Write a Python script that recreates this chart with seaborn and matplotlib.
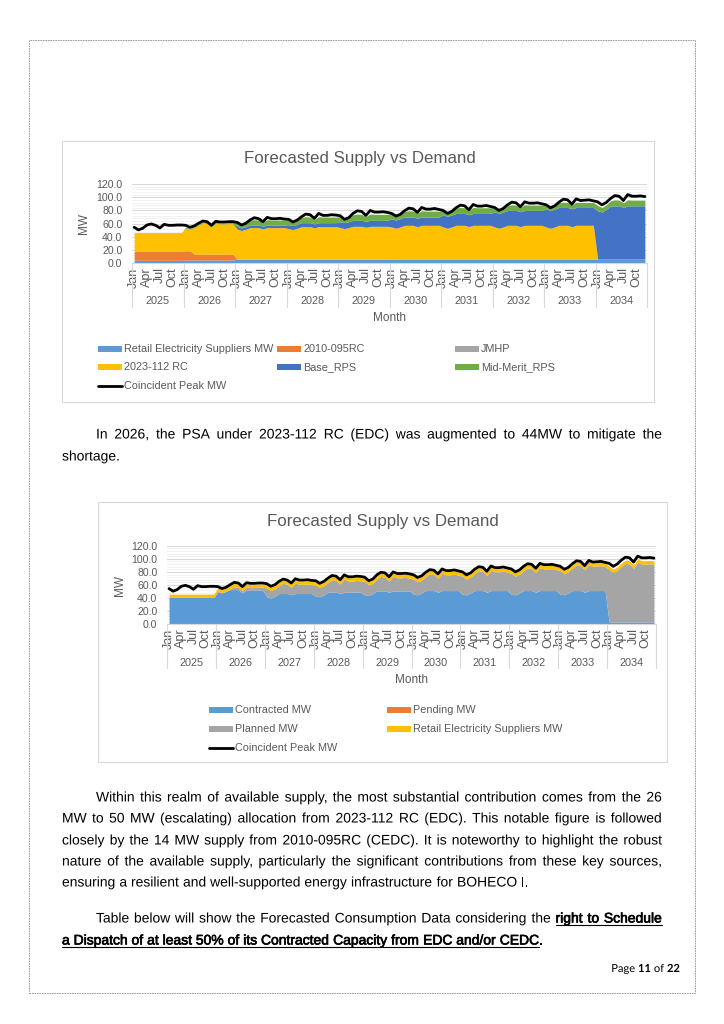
import numpy as np
import seaborn as sns
import matplotlib
matplotlib.use("Agg")
import matplotlib.pyplot as plt
import matplotlib.patheffects as pe
from matplotlib.patches import Rectangle
from matplotlib.lines import Line2D
from matplotlib.ticker import MultipleLocator, FormatStrFormatter
from matplotlib.transforms import blended_transform_factory

sns.set_theme(style="white")
plt.rcParams["font.family"] = "Liberation Sans"

# ---------------- data ----------------
years = ["2025", "2026", "2027", "2028", "2029", "2030", "2031", "2032", "2033", "2034"]
month_names = ["Jan", "Feb", "Mar", "Apr", "May", "Jun", "Jul", "Aug", "Sep", "Oct", "Nov", "Dec"]

peak_mw = [
    54.5, 50.5, 53, 58, 59.5, 57.5, 53.5, 59, 57.5, 57.5, 58, 58,
    57.5, 54.5, 56.5, 60.5, 64, 63, 57.5, 63.5, 62.5, 62.5, 63, 63,
    62, 58, 60.5, 65.5, 69, 67.5, 63, 69.5, 67.5, 67.5, 68, 67,
    66.5, 62.5, 65.5, 70.5, 74.5, 73.5, 68, 75.5, 72.5, 72.5, 73.5, 73,
    72, 66.5, 69, 75.5, 79.5, 78.5, 72.5, 80, 77.5, 77.5, 78, 77,
    75.5, 71.5, 74, 79.5, 83.5, 82.5, 77, 84.5, 82, 82, 83, 81.5,
    80, 75.5, 78.5, 84, 88, 87, 81, 89, 86.5, 86.5, 87.5, 86,
    84.5, 80, 83, 88.5, 92.5, 91.5, 85.5, 93, 91, 91, 91.5, 90,
    88.5, 84, 87, 92.5, 97, 96, 89.5, 97.5, 95, 95.5, 96, 94.5,
    93, 88.5, 92, 98, 102.5, 101.5, 95, 104, 101.5, 101.5, 102, 101,
]

# chart 1 series
retail_1 = ([4.5] * 12 + [5] * 12 + [6] * 12 + [6] * 12 + [6] * 12
            + [6.5] * 12 + [6.5] * 12 + [6.5] * 12 + [6.5] * 12 + [6.5] * 12)
rc2010_1 = [14] * 12 + [14, 14, 9, 9, 9, 9, 9, 9, 9, 9, 9, 9] + [0] * 96
jmhp_1 = [0] * 120
rc2023_1 = (
    [28] * 12
    + [34, 32.5, 40, 43.5, 47, 46, 41, 46.5, 45.5, 45.5, 46, 46]
    + [46, 43.5, 45.5, 48, 48, 48, 46, 48, 48, 48, 48, 48]
    + [46.5, 45, 47, 49.5, 49.5, 49.5, 47.5, 49.5, 49.5, 49.5, 49.5, 49.5]
    + [48, 46.5, 48, 50, 50, 50, 48.5, 50, 50, 50, 50, 50]
    + [48.5, 46.5, 48.5, 51, 51, 51, 49, 51, 51, 51, 51, 51]
    + [48.5, 46.5, 48.5, 51, 51, 51, 49, 51, 51, 51, 51, 51]
    + [48.5, 46.5, 48.5, 51, 51, 51, 49, 51, 51, 51, 51, 51]
    + [48.5, 46.5, 48.5, 51, 51, 51, 49, 51, 51, 51, 51, 51]
    + [0] * 12
)
base_rps_1 = ([0] * 24 + [4] * 12 + [6] * 12 + [9] * 12 + [12.5] * 12
              + [18] * 12 + [22.5] * 12 + [27] * 12
              + [73, 71, 75, 80, 80.5, 80.5, 78, 80.5, 80.5, 80.5, 80.5, 80.5])
mid_merit_1 = (
    [0] * 12
    + [1.5] * 12
    + [6, 5.5, 5.5, 7, 8, 7.5, 6.5, 8, 7.5, 7.5, 7.5, 7.5]
    + [7, 6, 6.5, 8, 9, 8.5, 7, 9, 8.5, 8.5, 8.5, 8.5]
    + [7.5, 6.5, 7, 8.5, 9.5, 9, 7.5, 9.5, 9, 9, 9, 9]
    + [7.5, 6.5, 7, 8.5, 9.5, 9, 7.5, 9.5, 9, 9, 9, 9]
    + [7, 6, 6.5, 8, 9, 8.5, 7, 9, 8.5, 8.5, 8.5, 8.5]
    + [6.5, 5.5, 6, 7.5, 8.5, 8, 6.5, 8.5, 8, 8, 8, 8]
    + [6, 5, 5.5, 7, 8, 7.5, 6, 8, 7.5, 7.5, 7.5, 7.5]
    + [8, 7, 7, 8, 9, 8.5, 7, 9, 8.5, 8.5, 8.5, 8.5]
)

# chart 2 series
contracted_2 = (
    [41] * 12
    + [50, 48, 50.5, 53, 53, 53, 48, 52, 52, 52, 52, 52]
    + [42, 40, 43, 47, 47, 47, 45, 47, 47, 47, 47, 47]
    + [43, 42, 45, 49, 49, 49, 47, 49, 49, 49, 49, 49]
    + [45, 44, 47, 51, 51, 51, 49, 51, 51, 51, 51, 51]
    + [46, 45, 48, 51.5, 51.5, 51.5, 49, 51.5, 51.5, 51.5, 51.5, 51.5]
    + [46, 45, 48, 51.5, 51.5, 51.5, 49, 51.5, 51.5, 51.5, 51.5, 51.5]
    + [46, 45, 48, 51.5, 51.5, 51.5, 49, 51.5, 51.5, 51.5, 51.5, 51.5]
    + [46, 45, 48, 51.5, 51.5, 51.5, 49, 51.5, 51.5, 51.5, 51.5, 51.5]
    + [3.5] * 12
)
pending_2 = [0] * 120
planned_2 = (
    [0] * 12
    + [1, 0, 0, 1, 4.5, 3.5, 3, 5, 4, 4, 4.5, 4.5]
    + [13.5, 11.5, 11, 12, 15.5, 14, 11.5, 16, 14, 14, 14.5, 13.5]
    + [17, 14, 14, 15, 19, 18, 14.5, 20, 17, 17, 18, 17.5]
    + [20.5, 16, 15.5, 18, 22, 21, 17, 22.5, 20, 20, 20.5, 19.5]
    + [23, 20, 19.5, 21.5, 25.5, 24.5, 21.5, 26.5, 24, 24, 25, 23.5]
    + [27.5, 24, 24, 26, 30, 29, 25.5, 31, 28.5, 28.5, 29.5, 28]
    + [32, 28.5, 28.5, 30.5, 34.5, 33.5, 30, 35, 33, 33, 33.5, 32]
    + [36, 32.5, 32.5, 34.5, 39, 38, 34, 39.5, 37, 37.5, 38, 36.5]
    + [80, 75.5, 79, 85, 89.5, 88.5, 82, 91, 88.5, 88.5, 89, 88]
)
retail_2 = [5] * 120

# ---------------- page setup ----------------
FIG_W, FIG_H = 724, 1024
fig = plt.figure(figsize=(FIG_W / 100, FIG_H / 100), dpi=100)
fig.patch.set_facecolor("white")
rend = fig.canvas.get_renderer()

GREY_TXT = "#595959"
C_LBLUE, C_ORANGE, C_GREY = "#5B9BD5", "#ED7D31", "#A5A5A5"
C_YELLOW, C_DBLUE, C_GREEN = "#FFC000", "#4472C4", "#70AD47"


def fx(x):
    return x / FIG_W


def fy(y):
    return 1 - y / FIG_H


def rect_px(x0, y0, x1, y1, **kw):
    fig.add_artist(Rectangle((fx(x0), fy(y1)), (x1 - x0) / FIG_W, (y1 - y0) / FIG_H,
                             transform=fig.transFigure, **kw))


# page border
rect_px(29, 40, 695, 993, fill=False, ec="#8C8C8C", lw=0.6, ls=(0, (2, 1)))

x_pos = np.arange(120) + 0.5


def draw_chart(g, stacks, colors, legend_items, legend_cols):
    rect_px(*g["box"], fill=False, ec="#D9D9D9", lw=0.8)
    x0, y0, x1, y1 = g["plot"]
    ax = fig.add_axes([fx(x0), fy(y1), (x1 - x0) / FIG_W, (y1 - y0) / FIG_H])
    ax.stackplot(x_pos, *stacks, colors=colors, lw=0)
    sns.lineplot(x=x_pos, y=peak_mw, ax=ax, color="black", lw=2.0,
                 solid_joinstyle="round")
    ax.set_xlim(0, 120)
    ax.set_ylim(0, 120)
    ax.yaxis.set_major_locator(MultipleLocator(20))
    ax.yaxis.set_minor_locator(MultipleLocator(4))
    ax.yaxis.set_major_formatter(FormatStrFormatter("%.1f"))
    ax.grid(which="major", axis="y", color="#D9D9D9", lw=0.75)
    ax.grid(which="minor", axis="y", color="#F0F0F0", lw=0.6)
    ax.set_axisbelow(True)
    for s in ["top", "right", "left"]:
        ax.spines[s].set_visible(False)
    ax.spines["bottom"].set_color("#D9D9D9")
    ax.spines["bottom"].set_linewidth(0.8)
    ax.set_facecolor("none")
    ax.set_xticks(x_pos[::3])
    ax.set_xticklabels([month_names[i % 12] for i in range(0, 120, 3)])
    ax.tick_params(axis="x", length=0, pad=3.0, labelsize=9.0,
                   labelcolor=GREY_TXT, labelrotation=90)
    ax.tick_params(axis="y", which="both", length=0, pad=7, labelsize=7.6,
                   labelcolor=GREY_TXT)
    ax.set_xlabel("")
    ax.set_ylabel("")

    blend = blended_transform_factory(ax.transData, fig.transFigure)
    for k in range(11):
        ax.plot([12 * k, 12 * k], [fy(y1), fy(g["sep_bottom"])], transform=blend,
                clip_on=False, color="#D9D9D9", lw=0.8)
    for k, yr in enumerate(years):
        ax.text(12 * k + 6, fy(g["year_y"]), yr, transform=blend, ha="center",
                va="center", fontsize=7.8, color=GREY_TXT)

    fig.text(fx((x0 + x1) / 2), fy(g["month_y"]), "Month", ha="center", va="center",
             fontsize=8.5, color=GREY_TXT)
    fig.text(fx(g["mw"][0]), fy(g["mw"][1]), "MW", rotation=90, ha="center",
             va="center", fontsize=8.5, color=GREY_TXT)
    fig.text(fx(g["title"][0]), fy(g["title"][1]), "Forecasted Supply vs Demand",
             ha="center", va="center", fontsize=12.2, color=GREY_TXT)

    for i, (label, col, kind) in enumerate(legend_items):
        lx = g["leg_x"][i % legend_cols]
        ly = g["leg_y"][i // legend_cols]
        if kind == "line":
            fig.add_artist(Line2D([fx(lx), fx(lx + 24)], [fy(ly), fy(ly)],
                                  transform=fig.transFigure, color=col, lw=2.0))
        else:
            rect_px(lx, ly - 2.6, lx + 24, ly + 2.6, fc=col, ec="none")
        fig.text(fx(lx + 26), fy(ly), label, ha="left", va="center", fontsize=7.8,
                 color=GREY_TXT)
    return ax


geo1 = dict(box=(62, 141, 654, 402), plot=(132, 184, 647, 263.3), title=(360, 159),
            mw=(84, 224), year_y=301.5, sep_bottom=307, month_y=318,
            leg_x=(98, 277, 455), leg_y=(349, 367, 386))
geo2 = dict(box=(98, 502, 667, 762), plot=(167, 545.7, 656, 624.3), title=(383, 521.5),
            mw=(120, 585), year_y=662.5, sep_bottom=668, month_y=680,
            leg_x=(209, 387), leg_y=(710, 729, 748))

draw_chart(
    geo1,
    [retail_1, rc2010_1, jmhp_1, rc2023_1, base_rps_1, mid_merit_1],
    [C_LBLUE, C_ORANGE, C_GREY, C_YELLOW, C_DBLUE, C_GREEN],
    [("Retail Electricity Suppliers MW", C_LBLUE, "patch"), ("2010-095RC", C_ORANGE, "patch"),
     ("JMHP", C_GREY, "patch"), ("2023-112 RC", C_YELLOW, "patch"),
     ("Base_RPS", C_DBLUE, "patch"), ("Mid-Merit_RPS", C_GREEN, "patch"),
     ("Coincident Peak MW", "black", "line")],
    3,
)
draw_chart(
    geo2,
    [contracted_2, pending_2, planned_2, retail_2],
    [C_LBLUE, C_ORANGE, C_GREY, C_YELLOW],
    [("Contracted MW", C_LBLUE, "patch"), ("Pending MW", C_ORANGE, "patch"),
     ("Planned MW", C_GREY, "patch"), ("Retail Electricity Suppliers MW", C_YELLOW, "patch"),
     ("Coincident Peak MW", "black", "line")],
    2,
)


# ---------------- body text ----------------
# words are drawn as paths so every word sits on the same baseline
PLAIN_FX = [pe.Normal()]
BOLD_FX = [pe.withStroke(linewidth=0.45, foreground="black")]


def width_of(s, size, family):
    t = fig.text(0, 0, s, fontsize=size, family=family)
    w = t.get_window_extent(renderer=rend).width
    t.remove()
    return w


def put_line(items, y, x0, x1=None, justify=False, size=10.0,
             family="Liberation Sans", align="left", true_bold=False):
    arts, widths = [], []
    for word, bold, under, glue in items:
        kw = {"path_effects": BOLD_FX if (bold and not true_bold) else PLAIN_FX}
        if bold and true_bold:
            kw["fontweight"] = "bold"
        t = fig.text(0, 0, word, fontsize=size, family=family, color="black",
                     ha="left", va="baseline", **kw)
        arts.append(t)
        widths.append(t.get_window_extent(renderer=rend).width)
    space = width_of("a a", size, family) - width_of("aa", size, family)
    gaps = [0 if (i == 0 or it[3]) else 1 for i, it in enumerate(items)]
    if justify and sum(gaps):
        space = (x1 - x0 - sum(widths)) / sum(gaps)
    total = sum(widths) + space * sum(gaps)
    x = x0 if align == "left" else x0 - total
    starts = []
    for gp, wd in zip(gaps, widths):
        x += gp * space
        starts.append(x)
        x += wd
    for i, (t, s, wd, it) in enumerate(zip(arts, starts, widths, items)):
        t.set_position((fx(s), fy(y)))
        if it[2]:
            end = s + wd
            if i + 1 < len(items) and items[i + 1][2]:
                end = starts[i + 1]
            fig.add_artist(Line2D([fx(s), fx(end)], [fy(y + 2), fy(y + 2)],
                                  transform=fig.transFigure, color="black", lw=0.8))


def plain(s, bold=False, under=False):
    return [(w, bold, under, False) for w in s.split()]


L, R = 62, 662
put_line(plain("In 2026, the PSA under 2023-112 RC (EDC) was augmented to 44MW to mitigate the"),
         438.5, 96, R, justify=True)
put_line(plain("shortage."), 460.5, L)

para2 = [
    ("Within this realm of available supply, the most substantial contribution comes from the 26", 96, True),
    ("MW to 50 MW (escalating) allocation from 2023-112 RC (EDC). This notable figure is followed", L, True),
    ("closely by the 14 MW supply from 2010-095RC (CEDC). It is noteworthy to highlight the robust", L, True),
    ("nature of the available supply, particularly the significant contributions from these key sources,", L, True),
    ("ensuring a resilient and well-supported energy infrastructure for BOHECO I.", L, False),
]
for k, (line, x0, just) in enumerate(para2):
    put_line(plain(line), [801.5, 822.5, 844.5, 865.5, 886.5][k], x0, R, justify=just)

put_line(plain("Table below will show the Forecasted Consumption Data considering the")
         + plain("right to Schedule", bold=True, under=True), 922.5, 96, R, justify=True)
put_line(plain("a Dispatch of at least 50% of its Contracted Capacity from EDC and/or CEDC",
               bold=True, under=True) + [(".", False, False, True)], 944.5, L)

# footer
put_line([("Page", False, False, False), ("11", True, False, False),
          ("of", False, False, False), ("22", True, False, False)],
         972, 680, size=8.0, family="Lato", align="right", true_bold=True)

fig.savefig("out.png", dpi=100, facecolor="white")
